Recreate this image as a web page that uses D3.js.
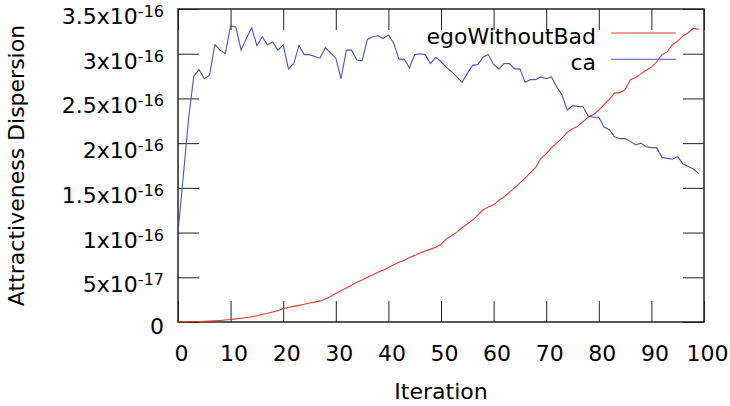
<!DOCTYPE html>
<html>
<head>
<meta charset="utf-8">
<script src="https://cdn.jsdelivr.net/npm/d3@7"></script>
<style>
  body { margin: 0; background: #fff; }
  text { font-family: "DejaVu Sans", sans-serif; fill: #000; }
</style>
</head>
<body>
<svg id="chart" width="730" height="406"></svg>
<script>
// values are in units of 1e-16
var xTicks = [0, 10, 20, 30, 40, 50, 60, 70, 80, 90, 100];
var yTicks = [0, 0.5, 1, 1.5, 2, 2.5, 3, 3.5];
var yTickLabels = [["0", ""], ["5x10", "-17"], ["1x10", "-16"], ["1.5x10", "-16"],
                   ["2x10", "-16"], ["2.5x10", "-16"], ["3x10", "-16"], ["3.5x10", "-16"]];

var egoWithoutBad = [
  0.000, 0.001, 0.002, 0.003, 0.005, 0.007, 0.010, 0.013, 0.017, 0.022,
  0.028, 0.035, 0.042, 0.050, 0.059, 0.069, 0.083, 0.098, 0.112, 0.127,
  0.150, 0.163, 0.175, 0.186, 0.198, 0.212, 0.222, 0.236, 0.258, 0.285,
  0.318, 0.352, 0.380, 0.410, 0.445, 0.470, 0.500, 0.525, 0.555, 0.580,
  0.610, 0.640, 0.668, 0.690, 0.722, 0.745, 0.772, 0.795, 0.815, 0.835,
  0.870, 0.930, 0.965, 1.005, 1.055, 1.095, 1.140, 1.195, 1.255, 1.285,
  1.310, 1.360, 1.400, 1.450, 1.500, 1.555, 1.610, 1.670, 1.730, 1.830,
  1.880, 1.950, 2.000, 2.055, 2.120, 2.160, 2.190, 2.240, 2.290, 2.320,
  2.370, 2.430, 2.490, 2.560, 2.565, 2.600, 2.710, 2.735, 2.775, 2.815,
  2.850, 2.910, 2.990, 3.020, 3.100, 3.140, 3.200, 3.235, 3.285, 3.270
];

var ca = [
  1.00, 1.63, 2.27, 2.75, 2.82, 2.72, 2.76, 3.10, 3.04, 3.00,
  3.31, 3.30, 3.04, 3.17, 3.29, 3.09, 3.19, 3.10, 3.13, 3.04,
  3.10, 2.83, 2.89, 3.09, 2.99, 2.99, 2.97, 2.95, 3.07, 3.01,
  2.95, 2.72, 3.04, 3.04, 2.93, 2.92, 3.16, 3.19, 3.20, 3.17,
  3.21, 3.12, 2.94, 2.94, 2.84, 2.99, 3.00, 2.99, 2.89, 2.96,
  2.91, 2.85, 2.80, 2.74, 2.68, 2.78, 2.87, 2.88, 2.96, 2.99,
  2.88, 2.83, 2.89, 2.89, 2.83, 2.83, 2.68, 2.71, 2.71, 2.74,
  2.72, 2.74, 2.63, 2.54, 2.37, 2.42, 2.41, 2.41, 2.30, 2.29,
  2.29, 2.18, 2.15, 2.07, 2.05, 2.05, 2.02, 1.98, 2.00, 1.96,
  1.95, 1.95, 1.84, 1.83, 1.82, 1.85, 1.77, 1.74, 1.71, 1.66
];

var seriesNames = ["egoWithoutBad", "ca"];
var seriesColors = ["#e63b2e", "#4c54b6"];
var seriesData = [egoWithoutBad, ca];

var svg = d3.select("#chart");
var plotLeft = 178, plotRight = 704, plotTop = 9, plotBottom = 322;
var tickLen = 21;

var x = d3.scaleLinear().domain([0, 100]).range([plotLeft, plotRight]);
var y = d3.scaleLinear().domain([0, 3.5]).range([plotBottom, plotTop]);

// axes (inward ticks on all four sides)
var gx = svg.append("g")
    .attr("transform", "translate(0," + plotBottom + ")")
    .call(d3.axisBottom(x).tickValues(xTicks).tickSize(-tickLen).tickPadding(0).tickFormat(d3.format("d")));
gx.selectAll("text")
    .attr("y", 39)
    .attr("dy", null)
    .attr("dx", 3)
    .style("font-size", "22px");

var gy = svg.append("g")
    .attr("transform", "translate(" + plotLeft + ",0)")
    .call(d3.axisLeft(y).tickValues(yTicks).tickSize(-tickLen).tickPadding(14).tickFormat(""));
gy.selectAll(".tick text").each(function(d, i) {
    var t = d3.select(this)
        .attr("dy", null)
        .attr("y", yTickLabels[i][1] ? 14.5 : 11.3)
        .style("font-size", "22px");
    t.append("tspan").text(yTickLabels[i][0]);
    if (yTickLabels[i][1]) {
        t.append("tspan")
            .attr("dy", -7)
            .style("font-size", "16px")
            .text(yTickLabels[i][1]);
    }
});

svg.append("g")
    .attr("transform", "translate(0," + plotTop + ")")
    .call(d3.axisTop(x).tickValues(xTicks).tickSize(-tickLen).tickFormat(""));
svg.append("g")
    .attr("transform", "translate(" + plotRight + ",0)")
    .call(d3.axisRight(y).tickValues(yTicks).tickSize(-tickLen).tickFormat(""));

svg.selectAll(".domain").remove();
svg.selectAll(".tick line").attr("stroke", "#222").attr("stroke-width", 1);

// plot border
svg.append("rect")
    .attr("x", plotLeft).attr("y", plotTop)
    .attr("width", plotRight - plotLeft).attr("height", plotBottom - plotTop)
    .attr("fill", "none")
    .attr("stroke", "#222")
    .attr("stroke-width", 1.5);

// series
var line = d3.line()
    .x(function(d, i) { return x(i); })
    .y(function(d) { return y(d); });

svg.selectAll("path.series")
    .data(seriesData)
    .enter()
    .append("path")
    .attr("class", "series")
    .attr("d", line)
    .attr("fill", "none")
    .attr("stroke", function(d, i) { return seriesColors[i]; })
    .attr("stroke-width", 1.1);

// legend
var legend = svg.append("g").selectAll("g")
    .data(seriesNames)
    .enter()
    .append("g")
    .attr("transform", function(d, i) { return "translate(0," + (33 + i * 26.3) + ")"; });
legend.append("text")
    .attr("x", 596)
    .attr("y", 11)
    .attr("text-anchor", "end")
    .style("font-size", "22px")
    .text(function(d) { return d; });
legend.append("line")
    .attr("x1", 611).attr("x2", 676)
    .attr("stroke", function(d, i) { return seriesColors[i]; })
    .attr("stroke-width", 1.1);

// axis titles
svg.append("text")
    .attr("x", (plotLeft + plotRight) / 2)
    .attr("y", 399)
    .attr("text-anchor", "middle")
    .style("font-size", "22px")
    .text("Iteration");

svg.append("text")
    .attr("transform", "translate(24," + (plotTop + plotBottom) / 2 + ") rotate(-90)")
    .attr("text-anchor", "middle")
    .style("font-size", "22px")
    .text("Attractiveness Dispersion");
</script>
</body>
</html>
